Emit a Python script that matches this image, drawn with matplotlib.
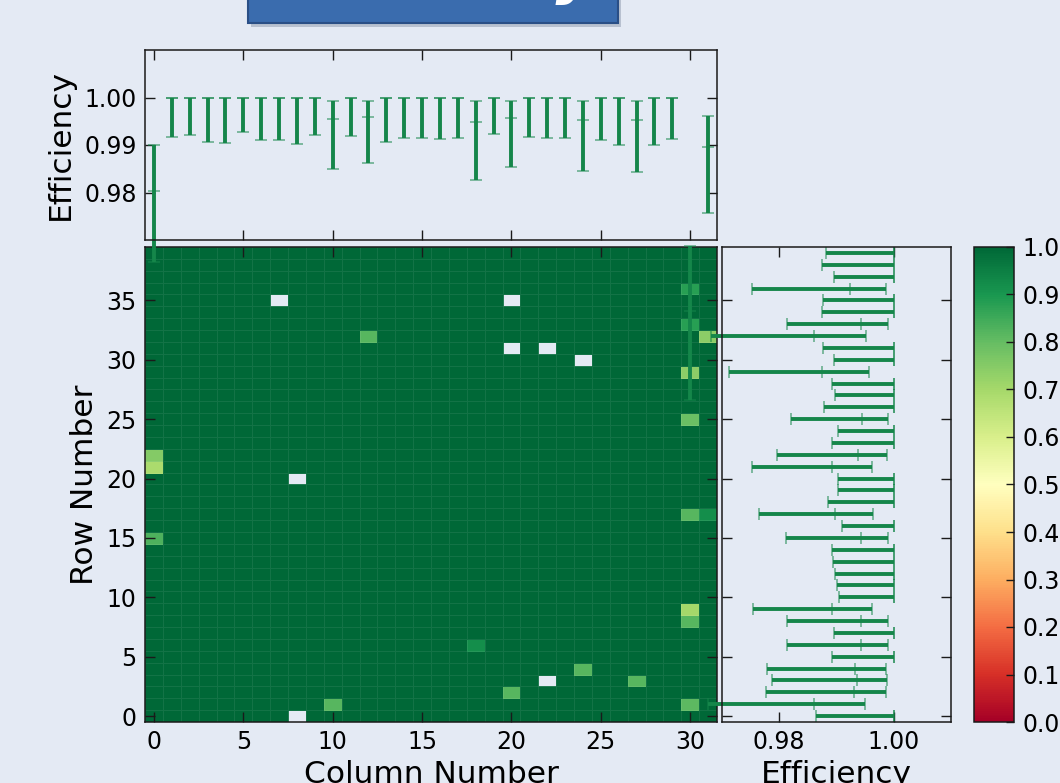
import numpy as np
import matplotlib
matplotlib.use('Agg')
import matplotlib.pyplot as plt
from matplotlib.patches import Rectangle

# ---------------- data ----------------
n_cols, n_rows = 32, 40

# cells that are below 1.0 (column, row, efficiency)
low_cells = [(0, 15, 0.83), (0, 21, 0.69), (0, 22, 0.75), (10, 1, 0.82),
             (12, 32, 0.82), (18, 6, 0.92), (20, 2, 0.82), (24, 4, 0.82),
             (27, 3, 0.82), (30, 1, 0.81), (30, 8, 0.82), (30, 9, 0.70),
             (30, 17, 0.82), (31, 17, 0.92), (30, 25, 0.79), (30, 29, 0.74),
             (31, 32, 0.74), (30, 33, 0.88), (30, 36, 0.88)]
# cells with no data (column, row)
dead_cells = [(7, 35), (20, 35), (20, 31), (22, 31), (24, 30), (8, 20), (8, 0), (22, 3)]

# efficiency per column, with lower / upper error bounds
col_eff = np.array([0.9804, 1, 1, 1, 1, 1, 1, 1, 1, 1,
                    0.9955, 1, 0.9958, 1, 1, 1, 1, 1, 0.9949, 1,
                    0.9956, 1, 1, 1, 0.9953, 1, 1, 0.9952, 1, 1,
                    0.9550, 0.9895])
col_lo = np.array([0.9653, 0.9916, 0.9921, 0.9906, 0.9905, 0.9927, 0.9910, 0.9910, 0.9903, 0.9921,
                   0.9850, 0.9920, 0.9862, 0.9907, 0.9915, 0.9915, 0.9913, 0.9914, 0.9827, 0.9923,
                   0.9853, 0.9916, 0.9914, 0.9915, 0.9845, 0.9911, 0.9899, 0.9844, 0.9900, 0.9913,
                   0.9363, 0.9757])
col_hi = np.array([0.9899, 1, 1, 1, 1, 1, 1, 1, 1, 1,
                   0.9992, 1, 0.9993, 1, 1, 1, 1, 1, 0.9992, 1,
                   0.9993, 1, 1, 1, 0.9993, 1, 1, 0.9993, 1, 1,
                   0.9688, 0.9962])

# efficiency per row, with lower / upper error bounds
row_eff = np.array([1, 0.9860, 0.9931, 0.9935, 0.9932, 1, 0.9943, 1, 0.9943, 0.9893,
                    1, 1, 1, 1, 1, 0.9942, 1, 0.9897, 1, 1,
                    1, 0.9892, 0.9938, 1, 1, 0.9945, 1, 1, 1, 0.9875,
                    1, 1, 0.9861, 0.9943, 1, 1, 0.9924, 1, 1, 1])
row_lo = np.array([0.9864, 0.9676, 0.9777, 0.9787, 0.9778, 0.9892, 0.9813, 0.9895, 0.9814, 0.9755,
                   0.9904, 0.9901, 0.9897, 0.9894, 0.9892, 0.9811, 0.9910, 0.9764, 0.9886, 0.9902,
                   0.9902, 0.9752, 0.9796, 0.9893, 0.9903, 0.9821, 0.9879, 0.9897, 0.9893, 0.9712,
                   0.9895, 0.9876, 0.9680, 0.9814, 0.9874, 0.9876, 0.9752, 0.9895, 0.9874, 0.9881])
row_hi = np.array([1, 0.9950, 0.9987, 0.9988, 0.9987, 1, 0.9990, 1, 0.9990, 0.9962,
                   1, 1, 1, 1, 1, 0.9990, 1, 0.9963, 1, 1,
                   1, 0.9962, 0.9989, 1, 1, 0.9990, 1, 1, 1, 0.9956,
                   1, 1, 0.9951, 0.9990, 1, 1, 0.9987, 1, 1, 1])

eff = np.ones((n_rows, n_cols))
for c, r, v in low_cells:
    eff[r, c] = v
for c, r in dead_cells:
    eff[r, c] = np.nan

# ---------------- plot ----------------
bg = '#e4eaf4'
green = '#15864a'
W, H = 1060., 783.

fig = plt.figure(figsize=(10.6, 7.83), dpi=100, facecolor=bg)

# slide title box (cut off at the top)
fig.patches.append(Rectangle((251 / W, (H - 27) / H), 370 / W, 40 / H, transform=fig.transFigure,
                             facecolor='#8e9aad', alpha=0.5, edgecolor='none'))
fig.patches.append(Rectangle((248 / W, (H - 23) / H), 370 / W, 40 / H, transform=fig.transFigure,
                             facecolor='#3a6cae', edgecolor='#2a4f86', lw=1.5))
fig.text(596 / W, 1 + 8 / H, 'Efficiency', color='white', fontsize=44, fontweight='bold',
         style='italic', ha='right', va='baseline')

ax_map = fig.add_axes([145 / W, 61 / H, 572 / W, 475 / H], facecolor=bg)
ax_top = fig.add_axes([145 / W, 543 / H, 572 / W, 190 / H], facecolor=bg)
ax_right = fig.add_axes([722 / W, 61 / H, 229 / W, 475 / H], facecolor=bg)
cax = fig.add_axes([974 / W, 61 / H, 40 / W, 475 / H])

mesh = ax_map.pcolormesh(np.arange(-0.5, n_cols), np.arange(-0.5, n_rows), np.ma.masked_invalid(eff),
                         cmap='RdYlGn', vmin=0, vmax=1, edgecolors=(1, 1, 1, 0.08), linewidth=0.6)
ax_map.set_xlim(-0.5, n_cols - 0.5)
ax_map.set_ylim(-0.5, n_rows - 0.5)
ax_map.set_xticks(np.arange(0, 31, 5))
ax_map.set_yticks(np.arange(0, 36, 5))
ax_map.set_xlabel('Column Number', fontsize=22.5)
ax_map.set_ylabel('Row Number', fontsize=22.5, labelpad=5)


def style_errorbar(eb, cap_alpha=0.55):
    data_line, caps, bars = eb.lines
    data_line.set_clip_on(False)
    data_line.set_alpha(cap_alpha)
    for cap in caps:
        cap.set_clip_on(False)
        cap.set_alpha(cap_alpha)
    for b in bars:
        b.set_clip_on(False)


cols = np.arange(n_cols)
eb = ax_top.errorbar(cols, col_eff, yerr=[col_eff - col_lo, col_hi - col_eff], fmt='_', color=green,
                     ms=8, mew=1.3, elinewidth=2.8, capsize=4, capthick=1.3)
style_errorbar(eb)
ax_top.set_xlim(-0.5, n_cols - 0.5)
ax_top.set_ylim(0.970, 1.010)
ax_top.set_xticks(np.arange(0, 31, 5))
ax_top.set_yticks([0.98, 0.99, 1.00])
ax_top.set_yticklabels(['0.98', '0.99', '1.00'])
ax_top.tick_params(labelbottom=False)
ax_top.set_ylabel('Efficiency', fontsize=22.5, labelpad=7)

rows = np.arange(n_rows)
eb = ax_right.errorbar(row_eff, rows, xerr=[row_eff - row_lo, row_hi - row_eff], fmt='|', color=green,
                       ms=8, mew=1.3, elinewidth=2.8, capsize=4, capthick=1.3)
style_errorbar(eb)
ax_right.set_ylim(-0.5, n_rows - 0.5)
ax_right.set_xlim(0.970, 1.010)
ax_right.set_yticks(np.arange(0, 36, 5))
ax_right.set_xticks([0.98, 1.00])
ax_right.set_xticklabels(['0.98', '1.00'])
ax_right.tick_params(labelleft=False)
ax_right.set_xlabel('Efficiency', fontsize=22.5)

for ax in [ax_map, ax_top, ax_right]:
    ax.tick_params(direction='in', length=7, width=1, top=True, right=True, labelsize=17, pad=6,
                   color='#1a1a1a')
    for s in ax.spines.values():
        s.set_linewidth(1.1)
        s.set_color('#1a1a1a')

cb = fig.colorbar(mesh, cax=cax, ticks=np.linspace(0, 1, 11))
cb.ax.set_yticklabels(['%.1f' % t for t in np.linspace(0, 1, 11)])
cb.ax.tick_params(direction='in', length=6, width=1, labelsize=17, pad=6, color='#1a1a1a')
cb.outline.set_linewidth(1.1)
cb.outline.set_edgecolor('#1a1a1a')

fig.savefig('out.png', dpi=100, facecolor=bg)
